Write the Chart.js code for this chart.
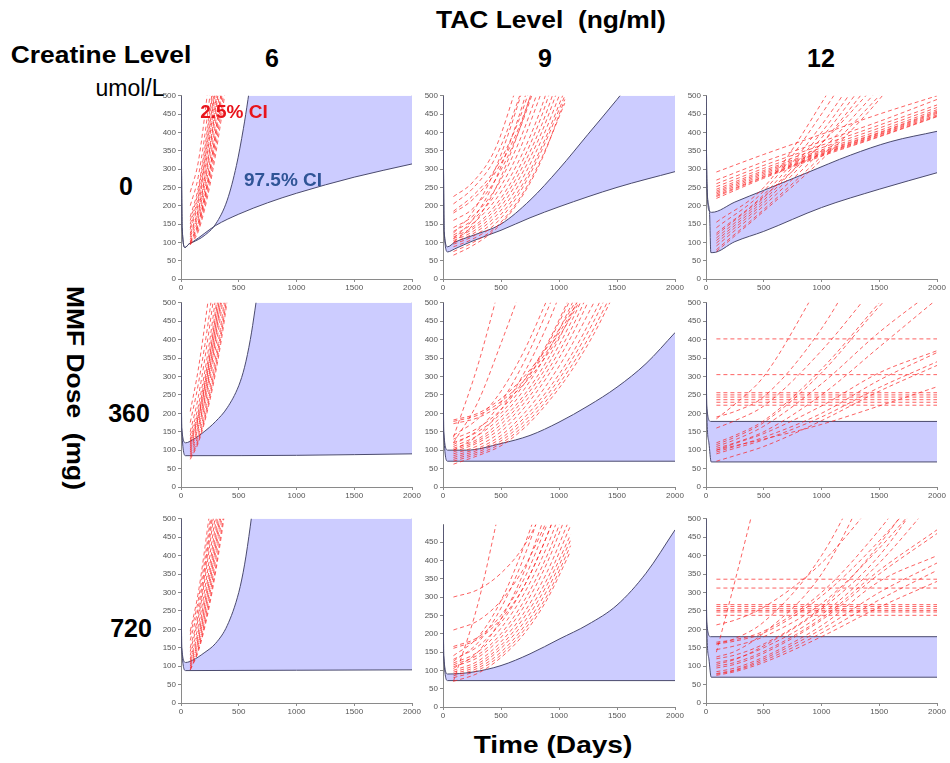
<!DOCTYPE html>
<html lang="en">

<head>
    <meta charset="UTF-8">
    <title>Predicted creatinine level by TAC level and MMF dose</title>
    <script src="https://cdn.jsdelivr.net/npm/chart.js@4.4.1/dist/chart.umd.min.js"></script>
    <style>
        body { margin: 0; background: #fff; width: 950px; height: 763px; position: relative; overflow: hidden; }
        .panel { position: absolute; }
        .hd { position: absolute; font: bold 24px "Liberation Sans", Arial, sans-serif; color: #000;
              white-space: nowrap; transform: translate(-50%, -50%) scaleX(1.1); }
        .sub { position: absolute; font: 23px "Liberation Sans", Arial, sans-serif; color: #000;
               white-space: nowrap; transform: translate(-50%, -50%); }
        .num { position: absolute; font: bold 25px "Liberation Sans", Arial, sans-serif; color: #000;
               white-space: nowrap; transform: translate(-50%, -50%); }
        .ci { position: absolute; font: bold 19px "Liberation Sans", Arial, sans-serif;
              white-space: nowrap; transform: translate(-50%, -50%); z-index: 5; }
    </style>
</head>

<body>
    <div class="hd" style="left:551px;top:20px">TAC Level&nbsp; (ng/ml)</div>
    <div class="hd" style="left:101px;top:55px">Creatine Level</div>
    <div class="sub" style="left:130px;top:88px">umol/L</div>
    <div class="num" style="left:272px;top:58px">6</div>
    <div class="num" style="left:545px;top:58px">9</div>
    <div class="num" style="left:821px;top:58px">12</div>
    <div class="num" style="left:126px;top:186px">0</div>
    <div class="num" style="left:129px;top:413px">360</div>
    <div class="num" style="left:131px;top:628px">720</div>
    <div class="hd" style="left:75px;top:388px;transform:translate(-50%,-50%) rotate(90deg) scaleX(1.1)">MMF Dose&nbsp; (mg)</div>
    <div class="hd" style="left:553px;top:745px;transform:translate(-50%,-50%) scaleX(1.17)">Time (Days)</div>

    <script>
        // time axis (days) and concentration axis ticks
        const xTicks = [0, 500, 1000, 1500, 2000];
        const yStep = 50;

        // ---- row 0 (creatine 0) ----
        const upper_r0c0 = [[0, 500], [10, 140], [35, 86], [70, 96], [100, 100], [200, 118], [300, 150], [400, 215], [480, 310], [540, 410], [580, 490], [620, 580], [700, 760], [2000, 3000]];
        const lower_r0c0 = [[0, 500], [10, 140], [35, 86], [70, 96], [100, 101], [300, 146], [500, 177], [750, 208], [1000, 234], [1500, 278], [2000, 314]];
        const grid_r0c0 = [80, 150, 250, 350, 450];
        const red_r0c0 = [
            [237, 320, 560], [200, 280, 500, 800], [170, 250, 460, 740], [150, 225, 420, 690],
            [135, 205, 390, 650], [125, 190, 365, 610], [115, 175, 340, 575], [108, 165, 320, 545],
            [102, 155, 300, 515], [98, 145, 285, 490, 740], [95, 138, 270, 465, 710], [93, 130, 255, 440, 680],
            [100, 150, 295, 505], [120, 185, 355, 595], [140, 215, 405, 670], [160, 240, 445, 720]
        ];

        const upper_r0c1 = [[0, 500], [10, 130], [40, 88], [100, 100], [250, 118], [500, 150], [750, 215], [1000, 300], [1250, 395], [1500, 490], [1750, 590], [2000, 690]];
        const lower_r0c1 = [[0, 500], [10, 130], [40, 74], [100, 82], [250, 103], [500, 133], [750, 167], [1000, 197], [1500, 250], [2000, 293]];
        const grid_r0c1 = [90, 250, 450, 650, 850, 1050];
        const red_r0c1 = [
            [225, 262, 355, 540], [205, 245, 330, 490, 700], [185, 225, 300, 430, 620], [180, 215, 290, 410, 590],
            [160, 190, 270, 400, 580], [140, 170, 245, 370, 540], [130, 160, 230, 345, 510],
            [120, 150, 215, 320, 470, 680], [115, 140, 200, 300, 445, 640], [110, 135, 190, 285, 420, 600],
            [105, 128, 180, 270, 400, 570], [100, 122, 170, 255, 380, 540], [95, 115, 160, 240, 360, 515],
            [88, 108, 150, 230, 350, 500], [75, 98, 140, 215, 330, 480], [65, 90, 135, 210, 325, 490],
            [110, 160, 270, 440, 650], [125, 180, 300, 480, 700], [100, 145, 245, 400, 600]
        ];

        const upper_r0c2 = [[0, 500], [8, 260], [30, 185], [50, 182], [250, 210], [500, 242], [875, 290], [1250, 338], [1600, 375], [2000, 403]];
        const lower_r0c2 = [[0, 500], [8, 260], [30, 185], [42, 72], [60, 72], [250, 102], [500, 130], [1000, 195], [1500, 245], [2000, 290]];
        const grid_r0c2 = [90, 500, 1000, 1500, 2000];
        const red_r0c2 = [
            [292, 340, 395, 450, 500], [270, 320, 375, 430, 490], [260, 310, 365, 420, 475], [252, 302, 358, 412, 468],
            [245, 296, 352, 405, 462], [240, 292, 348, 400, 458], [236, 288, 345, 398, 455], [232, 284, 342, 395, 452],
            [228, 280, 340, 393, 448], [225, 278, 338, 390, 445], [220, 275, 335, 388, 443],
            [155, 250, 480, 760], [140, 240, 450, 700], [125, 230, 420, 650], [112, 222, 400, 620],
            [105, 215, 385, 590], [98, 208, 370, 565], [120, 225, 370, 540], [90, 200, 350, 520],
            [80, 190, 335, 500], [75, 185, 325, 490, 700]
        ];

        // ---- row 1 (creatine 360) ----
        const upper_r1c0 = [[0, 500], [6, 160], [40, 120], [100, 128], [200, 150], [300, 178], [400, 215], [500, 275], [550, 325], [600, 400], [640, 480], [680, 570], [750, 740], [2000, 3000]];
        const lower_r1c0 = [[0, 500], [6, 160], [40, 85], [1000, 86], [2000, 90]];
        const grid_r1c0 = [80, 150, 250, 350, 450];
        const red_r1c0 = [
            [205, 320, 540], [175, 280, 480, 750], [150, 245, 440, 680], [140, 220, 400, 640],
            [130, 205, 375, 600], [120, 190, 350, 560], [110, 175, 325, 530], [100, 160, 305, 500],
            [95, 150, 290, 480, 720], [90, 140, 270, 450, 690], [85, 130, 255, 430, 660], [80, 125, 245, 415, 640],
            [75, 120, 235, 400, 620], [105, 165, 315, 515], [125, 195, 360, 580], [115, 185, 340, 545]
        ];

        const upper_r1c1 = [[0, 500], [6, 150], [40, 100], [200, 100], [500, 118], [750, 140], [1000, 176], [1250, 220], [1500, 271], [1750, 335], [2000, 419]];
        const lower_r1c1 = [[0, 500], [6, 150], [40, 70], [2000, 70]];
        const grid_r1c1 = [90, 300, 500, 700, 900, 1100, 1300, 1500];
        const red_r1c1 = [
            [135, 330, 560], [120, 230, 390, 560],
            [182, 200, 240, 300, 380, 480, 600], [178, 195, 232, 290, 370, 470, 590], [172, 188, 224, 280, 360, 460, 580],
            [130, 160, 210, 290, 390, 520], [120, 150, 200, 280, 385, 510], [110, 140, 190, 265, 365, 490, 620],
            [105, 130, 180, 250, 345, 465, 600], [100, 125, 170, 240, 330, 445, 580], [95, 120, 160, 228, 315, 425, 560],
            [90, 112, 150, 215, 300, 405, 535], [85, 105, 140, 200, 280, 380, 500], [80, 100, 132, 188, 262, 355, 470, 600],
            [75, 95, 125, 178, 250, 340, 450, 580], [70, 90, 118, 168, 238, 325, 430, 555], [62, 85, 112, 160, 228, 312, 415, 540],
            [100, 140, 210, 310, 440, 600], [115, 155, 230, 340, 480, 640], [140, 185, 260, 370, 510]
        ];

        const upper_r1c2 = [[0, 500], [6, 220], [40, 178], [2000, 178]];
        const lower_r1c2 = [[0, 500], [6, 220], [25, 120], [45, 68], [2000, 68]];
        const grid_r1c2 = [90, 250, 500, 1000, 1500, 2000];
        const flat_r1c2 = [402, 305, 256, 250, 244, 237, 230, 222];
        const red_r1c2 = [
            [185, 225, 300, 560], [190, 205, 245, 430, 700], [160, 180, 220, 370, 560], [120, 140, 180, 320, 500],
            [115, 135, 175, 310, 490, 650], [110, 128, 165, 280, 420, 540], [105, 120, 150, 250, 380, 510],
            [100, 118, 145, 220, 310, 370], [95, 110, 135, 200, 290, 365], [90, 105, 128, 190, 270, 340],
            [70, 85, 110, 180, 260, 330], [100, 112, 130, 170, 220, 272]
        ];

        // ---- row 2 (creatine 720) ----
        const upper_r2c0 = [[0, 500], [6, 150], [40, 110], [100, 116], [200, 136], [300, 162], [400, 210], [500, 300], [550, 375], [600, 480], [640, 580], [700, 740], [2000, 3000]];
        const lower_r2c0 = [[0, 500], [6, 150], [40, 88], [1000, 89], [2000, 90]];
        const grid_r2c0 = [80, 150, 250, 350, 450];
        const red_r2c0 = [
            [195, 300, 520], [185, 280, 490, 750], [170, 260, 470, 730], [150, 240, 450, 700],
            [140, 230, 430, 680], [130, 210, 400, 640], [120, 195, 375, 610], [115, 185, 355, 580],
            [110, 175, 340, 555], [105, 168, 325, 535], [100, 160, 310, 515], [95, 150, 295, 495, 740],
            [90, 145, 280, 470, 710], [90, 140, 270, 455, 690]
        ];

        const upper_r2c1 = [[0, 497], [6, 140], [40, 90], [250, 95], [500, 113], [750, 145], [1000, 185], [1250, 225], [1500, 278], [1750, 365], [2000, 483]];
        const lower_r2c1 = [[0, 497], [6, 140], [40, 72], [2000, 72]];
        const grid_r2c1 = [90, 300, 500, 700, 900, 1100];
        const red_r2c1 = [
            [300, 320, 365, 440, 560], [210, 235, 290, 380, 510], [165, 190, 250, 350, 500], [160, 185, 240, 330, 470, 640],
            [70, 280, 560], [130, 165, 230, 330, 470, 650], [120, 150, 215, 310, 440, 610], [115, 142, 200, 290, 415, 580],
            [110, 135, 190, 275, 395, 555], [100, 125, 178, 258, 370, 520], [95, 118, 168, 245, 350, 495],
            [90, 112, 160, 232, 335, 470], [85, 106, 150, 220, 320, 455], [80, 100, 142, 210, 305, 440],
            [70, 92, 135, 200, 295, 425], [140, 190, 290, 440, 620], [125, 175, 270, 410, 590], [105, 150, 240, 370, 540]
        ];

        const upper_r2c2 = [[0, 500], [6, 220], [40, 180], [2000, 180]];
        const lower_r2c2 = [[0, 500], [6, 220], [25, 120], [45, 70], [2000, 70]];
        const grid_r2c2 = [90, 250, 500, 1000, 1500, 2000];
        const flat_r2c2 = [336, 312, 267, 262, 256, 251, 247, 238];
        const red_r2c2 = [
            [138, 330, 640], [212, 225, 260, 380, 560], [165, 172, 195, 300, 470, 680], [160, 168, 190, 290, 440, 620],
            [145, 155, 180, 270, 420, 600], [120, 130, 160, 260, 430, 650], [110, 120, 150, 240, 380, 560],
            [100, 110, 140, 230, 360, 470], [85, 95, 125, 210, 330, 400], [80, 90, 120, 200, 300, 380],
            [78, 88, 115, 190, 280, 360], [75, 85, 110, 180, 260, 330], [105, 118, 155, 255, 400, 620],
            [95, 105, 135, 225, 350, 460], [125, 140, 190, 350, 650], [160, 175, 220, 400, 700]
        ];

        // panel layout: plot area position in the page
        const panels = [
            { up: upper_r0c0, lo: lower_r0c0, grid: grid_r0c0, red: red_r0c0, left: 181, top: 95, w: 231, h: 184, yMax: 500 },
            { up: upper_r0c1, lo: lower_r0c1, grid: grid_r0c1, red: red_r0c1, left: 443, top: 95, w: 232, h: 184, yMax: 500 },
            { up: upper_r0c2, lo: lower_r0c2, grid: grid_r0c2, red: red_r0c2, left: 706, top: 95, w: 231, h: 184, yMax: 500 },
            { up: upper_r1c0, lo: lower_r1c0, grid: grid_r1c0, red: red_r1c0, left: 181, top: 302, w: 231, h: 185, yMax: 500 },
            { up: upper_r1c1, lo: lower_r1c1, grid: grid_r1c1, red: red_r1c1, left: 443, top: 302, w: 232, h: 185, yMax: 500 },
            { up: upper_r1c2, lo: lower_r1c2, grid: grid_r1c2, red: red_r1c2, flat: flat_r1c2, left: 706, top: 302, w: 231, h: 185, yMax: 500 },
            { up: upper_r2c0, lo: lower_r2c0, grid: grid_r2c0, red: red_r2c0, left: 181, top: 518, w: 231, h: 185, yMax: 500 },
            { up: upper_r2c1, lo: lower_r2c1, grid: grid_r2c1, red: red_r2c1, left: 443, top: 524, w: 232, h: 183, yMax: 497 },
            { up: upper_r2c2, lo: lower_r2c2, grid: grid_r2c2, red: red_r2c2, flat: flat_r2c2, left: 706, top: 518, w: 231, h: 185, yMax: 500 }
        ];

        const RED = 'rgba(250, 30, 30, 0.78)';
        const BAND = 'rgb(204, 204, 255)';
        const EDGE = '#4b4b6e';
        const AXIS = '#8a8a8a';
        const padL = 26, padT = 6, padR = 12, padB = 16;

        Chart.defaults.font.family = '"Liberation Sans", Arial, sans-serif';

        function pts(xs, ys) {
            return ys.map((y, i) => ({ x: xs[i], y: y }));
        }

        function makePanel(p) {
            const div = document.createElement('div');
            div.className = 'panel';
            div.style.left = (p.left - padL) + 'px';
            div.style.top = (p.top - padT) + 'px';
            const canvas = document.createElement('canvas');
            canvas.width = p.w + padL + padR;
            canvas.height = p.h + padT + padB;
            div.appendChild(canvas);
            document.body.appendChild(div);

            let datasets = [];
            p.red.forEach(ys => datasets.push({
                data: pts(p.grid, ys), borderColor: RED, borderWidth: 0.9, borderDash: [4, 3],
                cubicInterpolationMode: 'monotone', order: 0
            }));
            (p.flat || []).forEach(y => datasets.push({
                data: [{ x: p.grid[0], y: y }, { x: 2000, y: y }], borderColor: RED, borderWidth: 0.9,
                borderDash: [4, 3], order: 0
            }));
            const loIdx = datasets.length;
            datasets.push({
                data: p.lo.map(d => ({ x: d[0], y: d[1] })), borderColor: EDGE, borderWidth: 1,
                cubicInterpolationMode: 'monotone', order: 1
            });
            datasets.push({
                data: p.up.map(d => ({ x: d[0], y: d[1] })), borderColor: EDGE, borderWidth: 1,
                cubicInterpolationMode: 'monotone', fill: loIdx, backgroundColor: BAND, order: 1
            });
            // closing edge of the band at the last day
            datasets.push({
                data: [{ x: 2000, y: p.lo[p.lo.length - 1][1] }, { x: 2000, y: p.up[p.up.length - 1][1] }],
                borderColor: EDGE, borderWidth: 0.8, order: 1
            });

            new Chart(canvas.getContext('2d'), {
                type: 'line',
                data: { datasets: datasets },
                options: {
                    responsive: false,
                    animation: false,
                    layout: { padding: { top: padT, right: padR, left: 0, bottom: 0 } },
                    elements: { point: { radius: 0 }, line: { tension: 0 } },
                    plugins: { legend: { display: false }, tooltip: { enabled: false } },
                    scales: {
                        x: {
                            type: 'linear', min: xTicks[0], max: xTicks[xTicks.length - 1],
                            afterFit: s => { s.height = padB; },
                            afterBuildTicks: s => { s.ticks = xTicks.map(v => ({ value: v })); },
                            ticks: { color: '#555', font: { size: 8 }, padding: 1, maxRotation: 0, callback: v => String(v) },
                            grid: { drawOnChartArea: false, tickLength: 3, color: AXIS },
                            border: { color: AXIS, width: 1 }
                        },
                        y: {
                            type: 'linear', min: 0, max: p.yMax,
                            afterFit: s => { s.width = padL; },
                            ticks: { stepSize: yStep, includeBounds: false, autoSkip: false, color: '#555', font: { size: 8 }, padding: 2, callback: v => String(v) },
                            grid: { drawOnChartArea: false, tickLength: 3, color: AXIS },
                            border: { color: AXIS, width: 1 }
                        }
                    }
                }
            });
        }

        panels.forEach(makePanel);
    </script>

    <div class="ci" style="left:234px;top:112px;color:#e8141c">2.5% CI</div>
    <div class="ci" style="left:283px;top:180px;color:#2f5496">97.5% CI</div>
</body>

</html>
